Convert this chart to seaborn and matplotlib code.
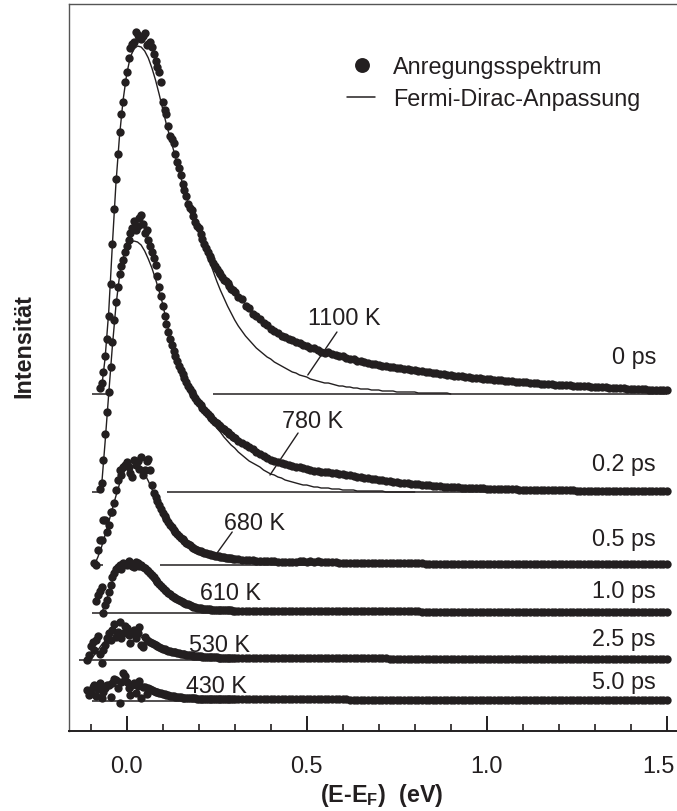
import numpy as np
import matplotlib
matplotlib.use('Agg')
import matplotlib.pyplot as plt
import matplotlib.transforms as mtransforms
import seaborn as sns
from matplotlib.ticker import MultipleLocator

nan = np.nan

# energy grid of the spectra (eV): full scan plus the extra half-step points
# recorded around the peak
energy = np.round(np.arange(-0.12, 1.505, 0.01), 3)
energy_half = np.round(np.arange(-0.115, 0.30, 0.01), 3)

delays = ['0 ps', '0.2 ps', '0.5 ps', '1.0 ps', '2.5 ps', '5.0 ps']
temps = ['1100 K', '780 K', '680 K', '610 K', '530 K', '430 K']
# vertical offset of each spectrum (arb. units)
offsets = [337, 239, 166, 118, 71, 30]

# measured spectra (intensity above offset), from -0.12 eV in 0.01 eV steps
spec_0ps = [
    nan, nan, nan, nan, nan, 11, 38, 78, 150, 215,
    262, 292, 322, 346, 352, 359, 355, 361, 350, 347,
    333, 322, 292, 280, 258, 251, 232, 219, 204, 190,
    184, 172, 166, 155, 146, 138, 131, 125, 120, 114,
    111, 105, 102, 97, 95, 88, 86, 80, 78, 75,
    71, 69, 65, 63, 61, 58, 57, 55, 54, 52,
    51, 49, 48, 46, 46, 44, 42, 41, 42, 40,
    39, 38, 38, 36, 35, 35, 33, 33, 32, 31,
    30, 30, 29, 28, 28, 27, 27, 26, 26, 25,
    25, 24, 24, 23, 23, 22, 22, 21, 21, 20,
    20, 19, 19, 18, 18, 18, 17, 17, 16, 16,
    16, 15, 15, 15, 14, 14, 14, 13, 13, 13,
    12, 12, 12, 12, 11, 11, 11, 10, 10, 10,
    10, 9, 9, 9, 9, 9, 8, 8, 8, 8,
    8, 7, 7, 7, 7, 7, 6, 6, 6, 6,
    6, 5, 5, 5, 5, 5, 5, 4, 4, 4,
    4, 4, 4]
spec_02ps = [
    nan, nan, nan, nan, nan, 9, 58, 100, 150, 190,
    218, 232, 246, 259, 271, 266, 277, 259, 252, 240,
    227, 205, 186, 168, 153, 141, 131, 122, 114, 106,
    100, 94, 89, 84, 80, 76, 72, 69, 66, 63,
    60, 57, 54, 51, 49, 47, 45, 43, 40, 38,
    36, 34, 32, 31, 30, 29, 28, 27, 26, 25,
    25, 24, 23, 22, 21, 21, 20, 20, 20, 19,
    19, 18, 18, 17, 17, 16, 15, 15, 14, 14,
    13, 13, 12, 12, 11, 11, 10, 10, 9, 9,
    9, 8, 8, 8, 7, 7, 7, 6, 6, 6,
    5, 5, 5, 5, 5, 4, 4, 4, 4, 4,
    4, 4, 3, 3, 3, 3, 3, 3, 3, 3,
    3, 2, 2, 2, 2, 2, 2, 2, 2, 2,
    2, 2, 2, 2, 2, 2, 2, 1, 1, 1,
    1, 1, 1, 1, 1, 1, 1, 1, 1, 1,
    1, 1, 1, 1, 1, 1, 1, 1, 1, 1,
    1, 1, 1]
spec_05ps = [
    nan, nan, nan, 2, 15, 25, 45, 40, 53, 75,
    95, 98, 103, 92, 105, 104, 108, 95, 106, 80,
    68, 60, 52, 46, 40, 35, 31, 27, 24, 21,
    18, 16, 14, 13, 12, 11, 10, 9, 8, 8,
    7, 7, 6, 6, 5, 5, 5, 5, 4, 4,
    4, 4, 4, 4, 3, 3, 3, 3, 3, 3,
    4, 4, 3, 4, 3, 4, 3, 3, 3, 3,
    3, 2, 2, 2, 2, 2, 2, 2, 2, 2,
    2, 2, 2, 2, 2, 2, 2, 2, 2, 2,
    2, 2, 2, 2, 2, 1, 1, 1, 1, 1,
    1, 1, 1, 1, 1, 1, 1, 1, 1, 1,
    1, 1, 1, 1, 1, 1, 1, 1, 1, 1,
    1, 1, 1, 1, 1, 1, 1, 1, 1, 1,
    1, 1, 1, 1, 1, 1, 1, 1, 1, 1,
    1, 1, 1, 1, 1, 1, 1, 1, 1, 1,
    1, 1, 1, 1, 1, 1, 1, 1, 1, 1,
    1, 1, 1]
spec_10ps = [
    nan, nan, nan, nan, 18, 26, 8, 21, 36, 44,
    48, 50, 48, 50, 46, 50, 48, 45, 42, 38,
    33, 29, 25, 22, 19, 16, 14, 12, 10, 9,
    7, 6, 5, 4, 4, 4, 3, 3, 3, 3,
    3, 3, 2, 2, 2, 2, 2, 2, 2, 2,
    2, 2, 2, 2, 2, 2, 2, 2, 2, 2,
    2, 2, 2, 2, 2, 2, 2, 2, 2, 2,
    2, 2, 2, 2, 2, 2, 2, 2, 2, 2,
    2, 2, 2, 2, 2, 2, 2, 2, 2, 2,
    2, 2, 2, 2, 1, 1, 1, 1, 1, 1,
    1, 1, 1, 1, 1, 1, 1, 1, 1, 1,
    1, 1, 1, 1, 1, 1, 1, 1, 1, 1,
    1, 1, 1, 1, 1, 1, 1, 1, 1, 1,
    1, 1, 1, 1, 1, 1, 1, 1, 1, 1,
    1, 1, 1, 1, 1, 1, 1, 1, 1, 1,
    1, 1, 1, 1, 1, 1, 1, 1, 1, 1,
    1, 1, 1]
spec_25ps = [
    nan, 0, 14, 10, 24, -3, 15, 27, 30, 23,
    38, 27, 32, 17, 30, 27, 15, 23, 19, 17,
    15, 13, 11, 10, 9, 8, 7, 6, 6, 5,
    5, 4, 4, 3, 3, 3, 3, 3, 2, 2,
    2, 2, 2, 2, 2, 2, 2, 2, 2, 2,
    2, 2, 2, 2, 2, 2, 2, 2, 2, 2,
    2, 2, 2, 2, 2, 2, 2, 2, 2, 2,
    2, 2, 2, 2, 2, 2, 2, 2, 2, 2,
    2, 2, 2, 2, 2, 1, 1, 1, 1, 1,
    1, 1, 1, 1, 1, 1, 1, 1, 1, 1,
    1, 1, 1, 1, 1, 1, 1, 1, 1, 1,
    1, 1, 1, 1, 1, 1, 1, 1, 1, 1,
    1, 1, 1, 1, 1, 1, 1, 1, 1, 1,
    1, 1, 1, 1, 1, 1, 1, 1, 1, 1,
    1, 1, 1, 1, 1, 1, 1, 1, 1, 1,
    1, 1, 1, 1, 1, 1, 1, 1, 1, 1,
    1, 1, 1]
spec_50ps = [
    nan, 11, 8, 16, 12, 3, 13, 16, 18, 21,
    -2, 28, 19, 6, 18, 15, 3, 14, 13, 11,
    9, 8, 7, 6, 5, 5, 4, 4, 3, 3,
    3, 3, 2, 2, 2, 2, 2, 2, 2, 2,
    2, 2, 2, 2, 2, 2, 2, 2, 2, 2,
    2, 2, 2, 2, 2, 2, 2, 2, 2, 2,
    2, 2, 2, 2, 2, 2, 2, 2, 2, 2,
    2, 2, 2, 2, 1, 1, 1, 1, 1, 1,
    1, 1, 1, 1, 1, 1, 1, 1, 1, 1,
    1, 1, 1, 1, 1, 1, 1, 1, 1, 1,
    1, 1, 1, 1, 1, 1, 1, 1, 1, 1,
    1, 1, 1, 1, 1, 1, 1, 1, 1, 1,
    1, 1, 1, 1, 1, 1, 1, 1, 1, 1,
    1, 1, 1, 1, 1, 1, 1, 1, 1, 1,
    1, 1, 1, 1, 1, 1, 1, 1, 1, 1,
    1, 1, 1, 1, 1, 1, 1, 1, 1, 1,
    1, 1, 1]

# half-step points, from -0.115 eV to 0.295 eV
half_0ps = [
    nan, nan, nan, nan, 6, 22, 55, 110, 185, 240,
    280, 312, 336, 350, 362, 356, 358, 349, 352, 340,
    327, 312, 284, 268, 255, 240, 226, 210, 198, 186,
    178, 168, 160, 150, 142, 135, 128, 122, 117, 113,
    108, 104]
half_02ps = [
    nan, nan, nan, nan, 3, 32, 80, 125, 172, 205,
    226, 240, 252, 264, 262, 274, 268, 262, 246, 234,
    216, 196, 176, 160, 147, 136, 126, 118, 110, 103,
    97, 91, 87, 82, 78, 74, 70, 67, 64, 61,
    58, 55]
half_05ps = [
    nan, nan, nan, 0, 25, 45, 33, 53, 62, 85,
    90, 100, 98, 88, 100, 96, 90, 104, 95, 72,
    64, 56, 49, 43, 38, 33, 29, 26, 22, 20,
    17, 15, 14, 12, 11, 10, 9, 9, 8, 7,
    7, 6]
half_10ps = [
    nan, nan, nan, 12, 22, 0, 13, 28, 40, 46,
    44, 49, 52, 47, 51, 47, 46, 43, 40, 36,
    31, 27, 23, 20, 17, 15, 13, 11, 9, 8,
    6, 5, 5, 4, 4, 3, 3, 3, 3, 3,
    3, 2]
half_25ps = [
    nan, 5, 18, 20, 6, 10, 22, 20, 36, 28,
    22, 34, 25, 28, 22, 33, 13, 20, 18, 16,
    14, 12, 11, 9, 8, 8, 7, 6, 5, 5,
    4, 4, 4, 3, 3, 3, 3, 2, 2, 2,
    2, 2]
half_50ps = [
    nan, 6, 14, 5, 18, 9, 16, 4, 22, 13,
    19, 25, 13, 16, 8, 20, 14, 7, 12, 10,
    9, 8, 7, 6, 5, 4, 4, 3, 3, 3,
    3, 2, 2, 2, 2, 2, 2, 2, 2, 2,
    2, 2]

# Fermi-Dirac fits (same grid as the scan, shorter)
fit_0ps = [
    nan, nan, nan, nan, nan, 5, 36, 82, 148, 210,
    258, 294, 320, 337, 345, 348, 347, 343, 336, 326,
    314, 300, 285, 270, 257, 244, 231, 217, 204, 192,
    181, 170, 161, 152, 143, 133, 123, 113, 104, 96,
    88, 81, 74, 68, 63, 58, 54, 50, 46, 43,
    40, 37, 35, 32, 30, 28, 26, 24, 22, 21,
    19, 18, 17, 15, 14, 13, 12, 11, 11, 10,
    9, 8, 8, 7, 7, 6, 6, 5, 5, 5,
    4, 4, 4, 3, 3, 3, 3, 2, 2, 2,
    2, 2, 2, 1, 1, 1, 1, 1, 1, 1,
    1, 1, 0]
fit_02ps = [
    nan, nan, nan, nan, nan, 5, 50, 98, 145, 186,
    216, 234, 244, 249, 251, 250, 247, 241, 233, 224,
    213, 201, 188, 171, 156, 143, 132, 122, 113, 105,
    98, 92, 87, 82, 78, 74, 69, 64, 60, 55,
    51, 47, 44, 40, 37, 34, 31, 29, 27, 25,
    22, 20, 18, 17, 15, 14, 12, 11, 10, 9,
    8, 7, 7, 6, 5, 5, 4, 4, 4, 3,
    3, 3, 2, 2, 2, 2, 1, 1, 1, 1,
    1, 1, 1, 1, 0, 0, 0, 0, 0, 0,
    0, 0, 0]
fit_05ps = [
    nan, nan, nan, 0, 8, 18, 30, 43, 56, 69,
    81, 91, 98, 102, 103, 101, 97, 91, 84, 76,
    68, 60, 53, 46, 40, 35, 30, 26, 22, 19,
    16, 14, 12, 10, 9, 8, 7, 6, 5, 4,
    4, 3, 3, 3, 2, 2, 2, 2, 1, 1,
    1, 1, 1, 1, 1, 0, 0, 0, 0, 0,
    0, 0, 0]
fit_10ps = [
    nan, nan, nan, nan, nan, 0, 8, 20, 32, 40,
    45, 48, 50, 50, 49, 47, 44, 41, 37, 33,
    29, 25, 22, 19, 16, 13, 11, 9, 8, 6,
    5, 4, 3, 3, 2, 2, 1, 1, 1, 1,
    0, 0, 0, 0, 0, 0, 0, 0, 0, 0,
    0, 0, 0]
fit_25ps = [
    nan, nan, 0, 5, 10, 15, 19, 23, 26, 28,
    29, 29, 29, 28, 27, 25, 23, 21, 18, 16,
    14, 12, 10, 8, 7, 6, 5, 4, 3, 3,
    2, 2, 1, 1, 1, 0, 0, 0, 0, 0,
    0, 0, 0, 0, 0, 0, 0, 0]
fit_50ps = [
    nan, nan, 3, 7, 10, 13, 15, 17, 19, 20,
    21, 21, 20, 19, 18, 16, 14, 12, 11, 9,
    8, 7, 6, 5, 4, 3, 3, 2, 2, 1,
    1, 1, 0, 0, 0, 0, 0, 0, 0, 0,
    0, 0, 0]

spectra = [spec_0ps, spec_02ps, spec_05ps, spec_10ps, spec_25ps, spec_50ps]
halves = [half_0ps, half_02ps, half_05ps, half_10ps, half_25ps, half_50ps]
fits = [fit_0ps, fit_02ps, fit_05ps, fit_10ps, fit_25ps, fit_50ps]

# horizontal zero lines (eV ranges)
zero_lines = [
    [(-0.097, -0.056), (0.24, 1.50)],
    [(-0.097, -0.065), (0.112, 1.50)],
    [(-0.097, -0.065), (0.093, 1.50)],
    [(-0.097, 1.50)],
    [(-0.132, 1.50)],
    [(-0.097, 1.50)],
]

ink = '#231f20'
fs = 16.8

sns.set_style('ticks')
plt.rcParams['font.family'] = ['Liberation Sans', 'DejaVu Sans']
plt.rcParams['mathtext.fontset'] = 'custom'
plt.rcParams['mathtext.rm'] = 'Liberation Sans'
plt.rcParams['mathtext.bf'] = 'Liberation Sans:bold'

fig = plt.figure(figsize=(6.77, 8.11), dpi=100)
ax = fig.add_axes([69 / 677, 80 / 811, 608 / 677, 727 / 811])

for i in range(len(delays)):
    y = offsets[i] + np.array(spectra[i], dtype=float)
    yh = offsets[i] + np.array(halves[i], dtype=float)
    x_all = np.concatenate([energy[:len(y)], energy_half[:len(yh)]])
    y_all = np.concatenate([y, yh])
    sns.scatterplot(x=x_all, y=y_all, ax=ax, color=ink, s=36,
                    linewidth=0, zorder=3, legend=False)
    yf = offsets[i] + np.array(fits[i], dtype=float)
    ok = ~np.isnan(yf)
    sns.lineplot(x=energy[:len(yf)][ok], y=yf[ok], ax=ax, color=ink, lw=1.0,
                 sort=False, estimator=None, zorder=2, legend=False)
    for a, b in zero_lines[i]:
        ax.hlines(offsets[i], a, b, color=ink, lw=1.1, zorder=1)

# delay labels
delay_y = [367, 260, 185, 133, 85, 42]
for lab, yy in zip(delays, delay_y):
    ax.text(1.470, yy, lab, ha='right', va='baseline', fontsize=fs, color=ink)

# temperature labels with leader lines
temp_xy = [(0.604, 406), (0.515, 303), (0.354, 201), (0.287, 131), (0.259, 79), (0.249, 38)]
for lab, (tx, ty) in zip(temps, temp_xy):
    ax.text(tx, ty, lab, ha='center', va='baseline', fontsize=fs, color=ink)
leaders = [((0.584, 399), (0.503, 356)), ((0.476, 298), (0.398, 256)), ((0.293, 199), (0.251, 178))]
for (x0, y0), (x1, y1) in leaders:
    ax.plot([x0, x1], [y0, y1], color=ink, lw=1.0)

# legend
ax.scatter([0.654], [666], s=115, color=ink, linewidths=0)
ax.text(0.740, 657, 'Anregungsspektrum', fontsize=fs, va='baseline', color=ink)
ax.plot([0.612, 0.690], [634, 634], color=ink, lw=1.1)
ax.text(0.740, 625, 'Fermi-Dirac-Anpassung', fontsize=fs, va='baseline', color=ink)

ax.set_xlim(-0.1603, 1.5286)
ax.set_ylim(0, 727)
ax.set_xticks([0.0, 0.5, 1.0, 1.5])
ax.set_xticklabels(['0.0', '0.5', '1.0', '1.5'])
ax.xaxis.set_minor_locator(MultipleLocator(0.1))
ax.set_yticks([])
ax.tick_params(axis='x', which='major', direction='in', length=10.5, width=1.4,
               pad=17, labelsize=fs, colors=ink)
ax.tick_params(axis='x', which='minor', direction='in', length=5.3, width=1.2, colors=ink)
ax.spines['right'].set_visible(False)
for side in ['left', 'top']:
    ax.spines[side].set_color('#555555')
    ax.spines[side].set_linewidth(1.0)
ax.spines['bottom'].set_color(ink)
ax.spines['bottom'].set_linewidth(1.4)
ax.set_xlabel('')
ax.set_ylabel('')

# keep the last tick label inside the picture
last = ax.get_xticklabels()[-1]
last.set_transform(last.get_transform() +
                   mtransforms.ScaledTranslation(-8 / 100, 0, fig.dpi_scale_trans))

fig.text(382 / 677, 1 - 802 / 811, r'(E-E$_\mathbf{F}$)  (eV)', ha='center', va='baseline',
         fontsize=fs, fontweight='bold', color=ink)
fig.text(24 / 677, 1 - 346 / 811, 'Intensität', rotation=90, ha='center', va='center',
         fontsize=fs, fontweight='bold', color=ink)

fig.savefig('out.png', dpi=100)
